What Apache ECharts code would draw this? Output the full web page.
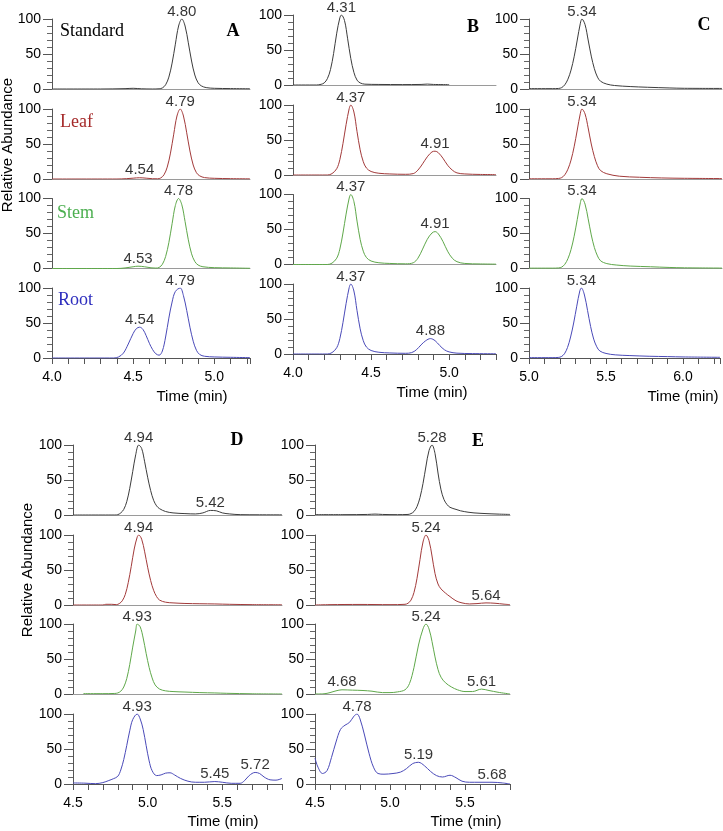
<!DOCTYPE html>
<html>
<head>
<meta charset="utf-8">
<script src="https://cdn.jsdelivr.net/npm/echarts@6/dist/echarts.min.js"></script>
<style>html,body{margin:0;padding:0;background:#fff}#c{width:723px;height:831px}</style>
</head>
<body>
<div id="c"></div>
<script>
// ---------------- DATA ----------------
const sampleNames = ['Standard', 'Leaf', 'Stem', 'Root'];
const panelLetters = ['A', 'B', 'C', 'D', 'E'];
const xTickLabelStep = 0.5;
const yTicks = [0, 50, 100];

// Panel A
const A_std  = [[4.0,0],[4.3,0],[4.45,0.5],[4.5,1],[4.55,0.3],[4.62,0],[4.66,0.3],[4.68,1.5],[4.70,6],[4.72,17],[4.74,37],[4.76,64],[4.78,90],[4.80,100],[4.82,90],[4.84,66],[4.86,40],[4.88,20],[4.90,9],[4.92,4.5],[4.95,2],[5.0,1],[5.1,0.6],[5.22,0.3]];
const A_leaf = [[4.0,0],[4.40,0],[4.46,0.5],[4.50,1.2],[4.54,1.8],[4.58,1.2],[4.62,0.4],[4.65,0.3],[4.67,1.5],[4.69,6],[4.71,17],[4.73,37],[4.75,64],[4.77,90],[4.79,100],[4.81,90],[4.83,66],[4.85,40],[4.87,20],[4.89,9],[4.91,4.5],[4.94,2],[5.0,1],[5.1,0.5],[5.22,0.2]];
const A_stem = [[4.0,0],[4.40,0],[4.45,0.8],[4.50,2.5],[4.53,3.3],[4.57,2.5],[4.61,1],[4.64,0.6],[4.66,1.5],[4.68,6],[4.70,17],[4.72,37],[4.74,64],[4.76,90],[4.78,100],[4.80,91],[4.82,67],[4.84,41],[4.86,21],[4.88,10],[4.90,5],[4.93,2.5],[5.0,1.2],[5.1,0.8],[5.22,0.3]];
const A_root = [[4.0,0],[4.38,0],[4.41,1.5],[4.44,7],[4.47,20],[4.50,35],[4.52,42],[4.54,44],[4.56,41],[4.58,32],[4.60,21],[4.62,12],[4.64,6],[4.66,4],[4.68,10],[4.70,30],[4.72,57],[4.74,80],[4.76,95],[4.79,100],[4.81,89],[4.83,68],[4.85,44],[4.87,24],[4.89,11],[4.91,5],[4.94,2.5],[5.0,1.5],[5.1,1],[5.22,0.5]];
const A_peaks = [[[4.80,100]], [[4.54,1.8],[4.79,100]], [[4.53,3.3],[4.78,100]], [[4.54,44],[4.79,100]]];

// Panel B
const B_std  = [[4.0,0],[4.15,0],[4.18,1],[4.20,3],[4.22,9],[4.24,22],[4.26,45],[4.28,74],[4.30,96],[4.31,100],[4.33,92],[4.35,66],[4.37,38],[4.39,18],[4.41,7],[4.43,3],[4.46,1.2],[4.55,0.8],[4.7,0.6],[4.82,0.8],[4.86,1.3],[4.90,0.8],[5.0,0.5]];
const B_leaf = [[4.0,0],[4.22,0],[4.25,2],[4.28,9],[4.30,22],[4.32,45],[4.34,72],[4.36,95],[4.37,100],[4.39,90],[4.41,62],[4.43,36],[4.45,19],[4.47,10],[4.50,5],[4.55,2.5],[4.62,1.5],[4.72,1],[4.77,2],[4.80,7],[4.83,16],[4.86,26],[4.89,33],[4.91,34],[4.93,32],[4.96,24],[4.99,14],[5.02,7],[5.05,3],[5.1,1.5],[5.2,0.8],[5.3,0.5]];
const B_stem = [[4.0,0],[4.22,0],[4.25,2],[4.28,9],[4.30,22],[4.32,45],[4.34,72],[4.36,95],[4.37,100],[4.39,90],[4.41,62],[4.43,36],[4.45,19],[4.47,10],[4.50,5],[4.55,2.5],[4.62,1.5],[4.72,1],[4.77,2.5],[4.80,9],[4.83,22],[4.86,36],[4.89,45],[4.91,47],[4.93,44],[4.96,33],[4.99,19],[5.02,9],[5.05,4],[5.1,1.5],[5.2,0.8],[5.3,0.5]];
const B_root = [[4.0,0],[4.22,0],[4.25,2],[4.28,9],[4.30,22],[4.32,45],[4.34,72],[4.36,95],[4.37,100],[4.39,90],[4.41,62],[4.43,36],[4.45,19],[4.47,10],[4.50,5],[4.55,2.5],[4.62,1.5],[4.72,1],[4.76,2],[4.79,6],[4.82,13],[4.85,19],[4.88,22],[4.91,19],[4.94,12],[4.97,6],[5.0,3],[5.05,1.2],[5.15,0.6],[5.3,0.3]];
const B_peaks = [[[4.31,100]], [[4.37,100],[4.91,34]], [[4.37,100],[4.91,47]], [[4.37,100],[4.88,22]]];

// Panel C
const C_std  = [[5.0,0.5],[5.15,0.5],[5.19,0.8],[5.21,2],[5.23,6],[5.25,14],[5.27,27],[5.29,46],[5.31,70],[5.33,94],[5.34,100],[5.36,92],[5.38,70],[5.40,47],[5.42,29],[5.44,17],[5.46,11],[5.50,7],[5.55,5],[5.65,3.5],[5.76,2.5],[5.9,1.5],[6.0,1],[6.24,0.8]];
const C_leaf = [[5.0,0.3],[5.15,0.3],[5.19,0.8],[5.21,2],[5.23,6],[5.25,14],[5.27,27],[5.29,46],[5.31,70],[5.33,94],[5.34,100],[5.36,93],[5.38,73],[5.40,50],[5.42,32],[5.44,19],[5.46,12],[5.50,7.5],[5.58,4],[5.71,2.5],[5.85,1.5],[6.0,1],[6.24,0.6]];
const C_stem = [[5.0,0.5],[5.15,0.5],[5.19,0.8],[5.21,2],[5.23,6],[5.25,14],[5.27,27],[5.29,46],[5.31,70],[5.33,94],[5.34,100],[5.36,92],[5.38,71],[5.40,48],[5.42,30],[5.44,18],[5.46,11],[5.50,7],[5.56,5],[5.65,3.5],[5.78,2.5],[5.9,1.5],[6.0,1],[6.24,0.6]];
const C_root = [[5.0,0.5],[5.15,0.5],[5.19,0.8],[5.21,2],[5.23,6],[5.25,15],[5.27,30],[5.29,50],[5.31,74],[5.33,96],[5.34,100],[5.36,90],[5.38,68],[5.40,45],[5.42,27],[5.44,16],[5.46,10],[5.50,6.5],[5.56,4.5],[5.65,3.5],[5.78,2.5],[5.9,2],[6.0,1.5],[6.24,1]];
const C_peaks = [[[5.34,100]], [[5.34,100]], [[5.34,100]], [[5.34,100]]];

// Panel D
const D_std  = [[4.5,0],[4.78,0],[4.80,0.5],[4.82,3],[4.84,8],[4.86,19],[4.88,38],[4.90,62],[4.92,86],[4.94,100],[4.96,95],[4.98,76],[5.00,54],[5.02,35],[5.04,21],[5.06,13],[5.08,9],[5.12,5],[5.17,3],[5.25,2],[5.32,1.5],[5.37,3],[5.42,6.5],[5.46,6],[5.50,3],[5.55,1.5],[5.62,0.5],[5.75,0.3],[5.9,0.2]];
const D_leaf = [[4.5,0],[4.70,0],[4.72,1],[4.76,1],[4.79,0.5],[4.81,2],[4.83,6],[4.85,15],[4.87,32],[4.89,55],[4.91,80],[4.93,97],[4.94,100],[4.96,94],[4.98,76],[5.00,54],[5.02,35],[5.04,21],[5.06,12],[5.08,7],[5.12,4],[5.17,3],[5.25,2.2],[5.35,1.8],[5.45,1.5],[5.55,1],[5.7,0.5],[5.9,0.3]];
const D_stem = [[4.57,0.5],[4.70,0.5],[4.78,0.8],[4.80,1.5],[4.82,4],[4.84,10],[4.86,22],[4.88,42],[4.90,67],[4.92,90],[4.93,100],[4.95,96],[4.97,80],[4.99,58],[5.01,38],[5.03,23],[5.05,13],[5.08,7],[5.12,4.5],[5.17,3.5],[5.25,2.8],[5.35,2],[5.45,1.5],[5.53,1],[5.7,0.3],[5.9,0]];
const D_root = [[4.5,1.5],[4.58,1.2],[4.65,0.5],[4.70,2],[4.74,5],[4.77,7.5],[4.80,11],[4.82,20],[4.84,35],[4.86,55],[4.88,76],[4.90,92],[4.93,100],[4.95,93],[4.97,78],[4.99,55],[5.01,33],[5.03,19],[5.06,12],[5.09,13],[5.12,15.5],[5.15,16],[5.18,13],[5.22,8],[5.27,4],[5.32,2.5],[5.38,2.5],[5.45,3.5],[5.50,2.5],[5.56,1],[5.62,1],[5.65,5],[5.68,12],[5.72,16.5],[5.75,15],[5.78,10],[5.82,6],[5.86,5.5],[5.9,8]];
const D_peaks = [[[4.94,100],[5.42,6.5]], [[4.94,100]], [[4.93,100]], [[4.93,100],[5.45,3.5],[5.72,16.5]]];

// Panel E
const E_std  = [[4.5,0.5],[4.7,0.5],[4.85,0.8],[4.90,1.3],[4.95,0.8],[5.05,0.5],[5.12,0.8],[5.14,2],[5.16,5],[5.18,12],[5.20,25],[5.22,45],[5.24,70],[5.26,92],[5.28,100],[5.30,88],[5.32,60],[5.34,36],[5.36,22],[5.38,15],[5.40,11],[5.44,8],[5.47,6],[5.52,4],[5.56,3],[5.64,2],[5.72,1.3],[5.8,0.8]];
const E_leaf = [[4.5,0],[4.6,0.5],[4.8,0.8],[5.0,0.5],[5.10,1],[5.12,2.5],[5.14,7],[5.16,18],[5.18,38],[5.20,65],[5.22,90],[5.24,100],[5.26,92],[5.28,70],[5.30,45],[5.32,30],[5.34,23],[5.37,17],[5.40,12],[5.44,6],[5.48,3],[5.53,1.5],[5.58,2],[5.64,3],[5.70,2.5],[5.76,1.2],[5.8,0.5]];
const E_stem = [[4.5,0],[4.56,0.3],[4.60,2],[4.64,4.5],[4.68,6],[4.75,5.5],[4.82,5],[4.88,4],[4.95,2],[5.00,2],[5.05,3],[5.10,6],[5.13,15],[5.16,38],[5.19,70],[5.22,93],[5.24,100],[5.26,93],[5.28,75],[5.30,53],[5.32,35],[5.34,24],[5.37,16],[5.41,10],[5.45,6],[5.50,3.5],[5.55,3.5],[5.61,7],[5.66,5],[5.72,2.5],[5.8,0]];
const E_root = [[4.5,37],[4.52,24],[4.55,15],[4.58,19],[4.61,38],[4.64,60],[4.67,78],[4.70,84],[4.73,88],[4.76,97],[4.78,100],[4.80,93],[4.83,70],[4.86,44],[4.89,24],[4.92,15],[4.96,14],[5.02,15],[5.07,17],[5.11,22],[5.15,29],[5.19,31],[5.23,26],[5.27,18],[5.31,12],[5.35,10],[5.40,12.5],[5.44,9],[5.48,4],[5.53,2.5],[5.6,2.5],[5.68,2.5],[5.75,1.5],[5.8,0]];
const E_peaks = [[[5.28,100]], [[5.24,100],[5.64,3]], [[4.68,6],[5.24,100],[5.61,7]], [[4.78,100],[5.19,31],[5.68,2.5]]];

// ---------------- LAYOUT / STYLE ----------------
const SANS = '"Liberation Sans", Arial, sans-serif';
const SERIF = '"Liberation Serif", "Times New Roman", serif';
const lineColors = ['#3c3c3c', '#a23a3a', '#5fa84a', '#4a4ab8'];
const nameColors = ['#000000', '#a52a2a', '#4caf50', '#2e2ebe'];

const panels = [
  {left: 52,  width: 198, tops: [19, 109, 198.5, 288], xmin: 4.0, xmax: 5.22, data: [A_std, A_leaf, A_stem, A_root], peaks: A_peaks, letterPos: [233, 31], timePos: [192, 397]},
  {left: 293, width: 203, tops: [15, 105, 194.5, 284], xmin: 4.0, xmax: 5.30, data: [B_std, B_leaf, B_stem, B_root], peaks: B_peaks, letterPos: [473, 27], timePos: [432, 393]},
  {left: 529, width: 193, tops: [19, 109, 198.5, 288], xmin: 5.0, xmax: 6.24, data: [C_std, C_leaf, C_stem, C_root], peaks: C_peaks, letterPos: [704, 25], timePos: [683, 397]},
  {left: 73,  width: 209, tops: [445, 535, 624, 714],  xmin: 4.5, xmax: 5.90, data: [D_std, D_leaf, D_stem, D_root], peaks: D_peaks, letterPos: [237, 440], timePos: [223, 822]},
  {left: 315, width: 195, tops: [445, 535, 624, 714],  xmin: 4.5, xmax: 5.80, data: [E_std, E_leaf, E_stem, E_root], peaks: E_peaks, letterPos: [478, 441], timePos: [466, 822]}
];
const namePos = [[60, 31], [60, 122], [57, 213], [58, 300]];

function isHalf(v) { return Math.abs(v / xTickLabelStep - Math.round(v / xTickLabelStep)) < 1e-6; }

const option = {animation: false, backgroundColor: '#ffffff', grid: [], xAxis: [], yAxis: [], series: [], graphic: []};

panels.forEach((p, pi) => {
  p.tops.forEach((top, r) => {
    const gi = option.grid.length;
    const bottom = r === 3;
    option.grid.push({left: p.left, top: top, width: p.width, height: 70});
    option.xAxis.push({
      type: 'value', gridIndex: gi, min: p.xmin, max: p.xmax, interval: 0.1,
      splitLine: {show: false},
      axisLine: {onZero: false, lineStyle: {color: bottom ? '#555' : '#9a9a9a', width: 1}},
      axisTick: {show: bottom, length: 6, lineStyle: {color: '#555'}},
      axisLabel: {show: bottom, margin: 12, fontSize: 14, fontFamily: SANS, color: '#000',
        formatter: v => isHalf(v) ? v.toFixed(1) : ''}
    });
    option.yAxis.push({
      type: 'value', gridIndex: gi, min: yTicks[0], max: yTicks[2], interval: yTicks[1] - yTicks[0],
      splitLine: {show: false},
      axisLine: {show: true, onZero: false, lineStyle: {color: '#555'}},
      axisTick: {show: true, length: 9, lineStyle: {color: '#555'}},
      minorTick: {show: true, splitNumber: 5, length: 5, lineStyle: {color: '#666'}},
      axisLabel: {margin: 11, fontSize: 14, fontFamily: SANS, color: '#000'}
    });
    option.series.push({
      type: 'line', xAxisIndex: gi, yAxisIndex: gi, data: p.data[r], smooth: 0.35,
      symbol: 'none', silent: true, z: 3,
      lineStyle: {color: lineColors[r], width: 1}
    });
    option.series.push({
      type: 'scatter', xAxisIndex: gi, yAxisIndex: gi, data: p.peaks[r], symbolSize: 0,
      clip: false, silent: true, z: 4,
      label: {show: true, position: 'top', distance: 0, fontSize: 15, fontFamily: SANS, color: '#000',
        formatter: d => d.value[0].toFixed(2)}
    });
  });
  option.graphic.push({type: 'text', x: p.letterPos[0], y: p.letterPos[1],
    style: {text: panelLetters[pi], font: 'bold 18px ' + SERIF, fill: '#000',
      align: 'center', verticalAlign: 'middle', textAlign: 'center', textVerticalAlign: 'middle'}});
  option.graphic.push({type: 'text', x: p.timePos[0], y: p.timePos[1],
    style: {text: 'Time (min)', font: '15px ' + SANS, fill: '#000',
      align: 'center', verticalAlign: 'middle', textAlign: 'center', textVerticalAlign: 'middle'}});
});

sampleNames.forEach((n, i) => {
  option.graphic.push({type: 'text', x: namePos[i][0], y: namePos[i][1],
    style: {text: n, font: '18px ' + SERIF, fill: nameColors[i],
      align: 'left', verticalAlign: 'middle', textAlign: 'left', textVerticalAlign: 'middle'}});
});

[[8, 145], [28, 570]].forEach(pos => {
  option.graphic.push({type: 'text', x: pos[0], y: pos[1], rotation: Math.PI / 2,
    style: {text: 'Relative Abundance', font: '15px ' + SANS, fill: '#000',
      align: 'center', verticalAlign: 'middle', textAlign: 'center', textVerticalAlign: 'middle'}});
});

const chart = echarts.init(document.getElementById('c'), null, {renderer: 'canvas'});
chart.setOption(option);
</script>
</body>
</html>
